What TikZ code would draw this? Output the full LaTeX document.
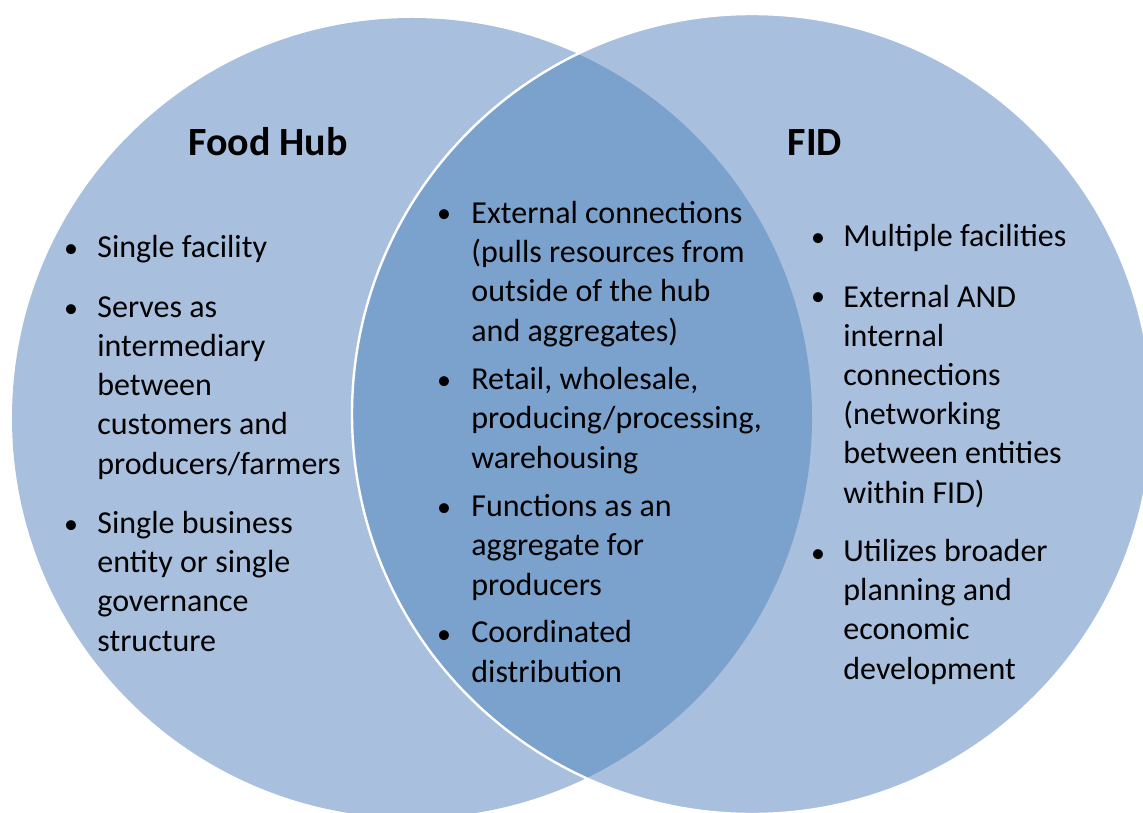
\documentclass[tikz,border=0pt]{standalone}
\usepackage{fontspec}
\setmainfont{Carlito}
\usepackage{tikz}

\definecolor{circleblue}{RGB}{168,192,222}
\definecolor{overlapblue}{RGB}{123,161,205}

\begin{document}
\begin{tikzpicture}[x=0.5pt,y=-0.5pt,
  title/.style={font=\fontsize{20}{24}\selectfont\bfseries, inner sep=0pt, anchor=base},
  entry/.style={font=\fontsize{16}{19.6}\selectfont, align=left, inner sep=0pt, anchor=base west},
  dot/.style={font=\fontsize{14}{19.6}\selectfont, inner sep=0pt, anchor=base}]

\useasboundingbox (0,0) rectangle (1143,812);

\coordinate (hub) at (412,418);
\coordinate (fid) at (752,414);

\fill[circleblue] (hub) circle [radius=200pt]; % Food Hub circle
\fill[circleblue] (fid) circle [radius=200pt]; % FID circle
\begin{scope}
\clip (hub) circle [radius=200pt];
\fill[overlapblue] (fid) circle [radius=200pt]; % Shared part
\end{scope}
\draw[white, line width=1.2pt] (fid) circle [radius=200pt];

\node [title] (hubtitle) at (268,156) {Food Hub};
\node [title] (fidtitle) at (815,156) {FID};

% Food Hub only (placed at last baseline)
\node [entry] (hubone) at (97,257) {Single facility};
\node [entry] (hubtwo) at (97,474) {Serves as\\intermediary\\between\\customers and\\producers/farmers};
\node [entry] (hubthree) at (97,651) {Single business\\entity or single\\governance\\structure};

% Both
\node [entry] (bothone) at (471,341) {External connections\\(pulls resources from\\outside of the hub\\and aggregates)};
\node [entry] (bothtwo) at (471,468) {Retail, wholesale,\\producing/processing,\\warehousing};
\node [entry] (boththree) at (471,595) {Functions as an\\aggregate for\\producers};
\node [entry] (bothfour) at (471,682) {Coordinated\\distribution};

% FID only
\node [entry] (fidone) at (843,247) {Multiple facilities};
\node [entry] (fidtwo) at (843,503) {External AND\\internal\\connections\\(networking\\between entities\\within FID)};
\node [entry] (fidthree) at (843,679) {Utilizes broader\\planning and\\economic\\development};

\foreach \Y in {257,317,533}{
    \node [dot] (hubdot\Y) at (71,\Y) {\textbullet};
}
\foreach \Y in {223,389,516,643}{
    \node [dot] (bothdot\Y) at (444,\Y) {\textbullet};
}
\foreach \Y in {247,306,562}{
    \node [dot] (fiddot\Y) at (818,\Y) {\textbullet};
}

\end{tikzpicture}
\end{document}
